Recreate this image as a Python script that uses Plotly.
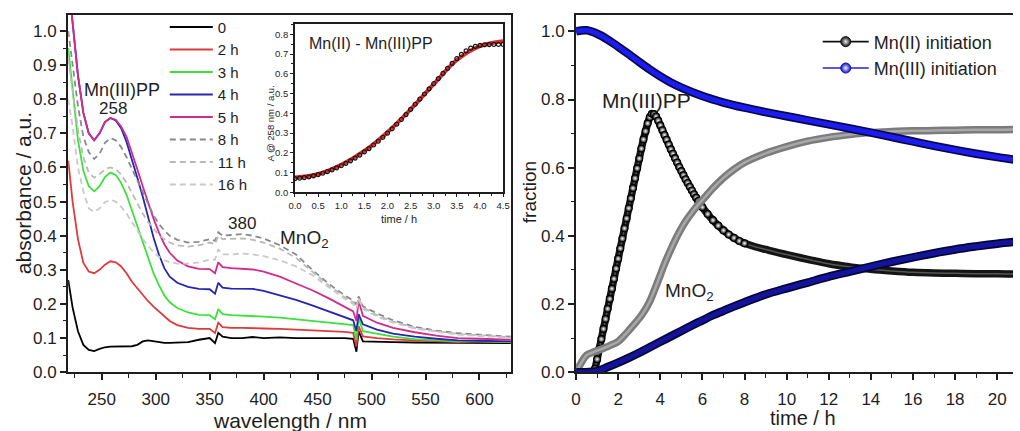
import plotly.graph_objects as go

W, H = 1020, 431


def fx(p):
    return p / W


def fy(p):
    return 1 - p / H


FONT = "Liberation Sans, Arial, Helvetica, sans-serif"
INK = "#1e1e1e"

# ---------------- left panel: UV-vis spectra ----------------
wavelength_nm = [219, 223, 228, 233, 238, 243, 248, 253, 258, 263,
                 268, 273, 278, 283, 288, 293, 298, 303, 308, 313,
                 320, 330, 340, 350, 355, 358, 362, 370, 380, 390,
                 400, 415, 430, 445, 460, 475, 483, 486, 488, 492,
                 505, 520, 540, 560, 580, 600, 615, 629]

abs_0h = [0.27, 0.19, 0.12, 0.08, 0.065, 0.062, 0.068, 0.073, 0.075, 0.075,
          0.075, 0.075, 0.076, 0.08, 0.09, 0.093, 0.09, 0.087, 0.086, 0.086,
          0.086, 0.088, 0.095, 0.1, 0.085, 0.115, 0.104, 0.1, 0.1, 0.103,
          0.1, 0.102, 0.1, 0.101, 0.1, 0.1, 0.098, 0.06, 0.12, 0.09,
          0.09, 0.088, 0.087, 0.087, 0.085, 0.086, 0.085, 0.085]
abs_2h = [0.62, 0.5, 0.39, 0.32, 0.295, 0.29, 0.3, 0.315, 0.325, 0.322,
          0.31, 0.29, 0.265, 0.245, 0.225, 0.208, 0.192, 0.178, 0.163, 0.15,
          0.138, 0.13, 0.127, 0.127, 0.115, 0.145, 0.132, 0.13, 0.13, 0.13,
          0.128, 0.127, 0.125, 0.123, 0.12, 0.118, 0.115, 0.075, 0.135, 0.105,
          0.1, 0.096, 0.093, 0.09, 0.088, 0.09, 0.088, 0.088]
abs_3h = [0.95, 0.82, 0.68, 0.59, 0.545, 0.53, 0.545, 0.572, 0.585, 0.578,
          0.555, 0.52, 0.475, 0.425, 0.38, 0.335, 0.29, 0.255, 0.225, 0.205,
          0.188, 0.175, 0.168, 0.167, 0.155, 0.185, 0.17, 0.167, 0.166, 0.166,
          0.163, 0.16, 0.155, 0.15, 0.146, 0.142, 0.138, 0.095, 0.16, 0.12,
          0.112, 0.104, 0.097, 0.093, 0.09, 0.09, 0.089, 0.088]
abs_4h = [1.15, 1.02, 0.87, 0.76, 0.7, 0.68, 0.7, 0.733, 0.745, 0.738,
          0.715, 0.675, 0.625, 0.57, 0.515, 0.455, 0.395, 0.345, 0.305, 0.28,
          0.262, 0.25, 0.244, 0.243, 0.23, 0.262, 0.248, 0.245, 0.245, 0.244,
          0.238, 0.226, 0.212, 0.196, 0.178, 0.16, 0.152, 0.12, 0.17, 0.14,
          0.125, 0.113, 0.104, 0.098, 0.093, 0.092, 0.09, 0.09]
abs_5h = [1.15, 1.02, 0.87, 0.76, 0.7, 0.68, 0.7, 0.733, 0.745, 0.74,
          0.72, 0.69, 0.645, 0.595, 0.545, 0.495, 0.45, 0.41, 0.375, 0.35,
          0.327, 0.31, 0.303, 0.302, 0.29, 0.322, 0.308, 0.305, 0.302, 0.301,
          0.295, 0.28, 0.26, 0.24, 0.217, 0.19, 0.178, 0.15, 0.21, 0.165,
          0.145, 0.13, 0.117, 0.107, 0.1, 0.098, 0.097, 0.095]
abs_8h = [1.0, 0.9, 0.78, 0.69, 0.645, 0.625, 0.64, 0.672, 0.686, 0.68,
          0.66, 0.63, 0.595, 0.56, 0.525, 0.49, 0.46, 0.435, 0.415, 0.4,
          0.388, 0.38, 0.382, 0.39, 0.385, 0.41, 0.4, 0.402, 0.405, 0.4,
          0.392, 0.372, 0.345, 0.3, 0.26, 0.225, 0.21, 0.198, 0.222, 0.193,
          0.172, 0.152, 0.133, 0.122, 0.114, 0.11, 0.107, 0.104]
abs_11h = [0.92, 0.82, 0.71, 0.63, 0.585, 0.57, 0.58, 0.595, 0.6, 0.595,
           0.58, 0.555, 0.525, 0.495, 0.465, 0.44, 0.42, 0.402, 0.39, 0.38,
           0.372, 0.368, 0.372, 0.38, 0.375, 0.4, 0.39, 0.39, 0.392, 0.388,
           0.38, 0.362, 0.335, 0.295, 0.255, 0.22, 0.205, 0.19, 0.218, 0.19,
           0.167, 0.148, 0.13, 0.12, 0.112, 0.108, 0.105, 0.102]
abs_16h = [0.8, 0.72, 0.6, 0.53, 0.48, 0.47, 0.48, 0.498, 0.505, 0.5,
           0.485, 0.465, 0.44, 0.415, 0.39, 0.37, 0.352, 0.338, 0.328, 0.322,
           0.318, 0.318, 0.322, 0.33, 0.33, 0.36, 0.345, 0.345, 0.348, 0.345,
           0.34, 0.328, 0.31, 0.285, 0.25, 0.215, 0.2, 0.185, 0.215, 0.185,
           0.163, 0.145, 0.128, 0.118, 0.11, 0.106, 0.104, 0.1]

spectrum_labels = ["0", "2 h", "3 h", "4 h", "5 h", "8 h", "11 h", "16 h"]

# ---------------- inset: A @ 258 nm vs time ----------------
inset_time_h = [0.0, 0.1, 0.2, 0.3, 0.4, 0.5, 0.6, 0.7, 0.8, 0.9,
                1.0, 1.1, 1.2, 1.3, 1.4, 1.5, 1.6, 1.7, 1.8, 1.9,
                2.0, 2.1, 2.2, 2.3, 2.4, 2.5, 2.6, 2.7, 2.8, 2.9,
                3.0, 3.1, 3.2, 3.3, 3.4, 3.5, 3.6, 3.7, 3.8, 3.9,
                4.0, 4.1, 4.2, 4.3, 4.4, 4.5]
inset_a258 = [0.070, 0.072, 0.075, 0.079, 0.084, 0.090, 0.097, 0.105, 0.114, 0.124,
              0.135, 0.147, 0.160, 0.174, 0.189, 0.205, 0.222, 0.240, 0.259, 0.279,
              0.300, 0.322, 0.345, 0.369, 0.394, 0.420, 0.446, 0.472, 0.498, 0.524,
              0.550, 0.576, 0.602, 0.628, 0.653, 0.677, 0.698, 0.716, 0.730, 0.739,
              0.744, 0.747, 0.748, 0.749, 0.749, 0.749]
fit_time_h = [0.0, 0.5, 1.0, 1.5, 2.0, 2.5, 3.0, 3.5, 4.0, 4.5]
fit_a258 = [0.075, 0.093, 0.14, 0.21, 0.305, 0.42, 0.548, 0.67, 0.74, 0.765]

# ---------------- right panel: fractions vs time ----------------
t_pp_mn2 = [0.9, 1.0, 1.1, 1.2, 1.3, 1.4, 1.5, 1.6, 1.7, 1.8,
            1.9, 2.0, 2.1, 2.2, 2.3, 2.4, 2.5, 2.6, 2.7, 2.8,
            2.9, 3.0, 3.1, 3.2, 3.3, 3.4, 3.5, 3.6, 3.7, 3.8,
            3.9, 4.0, 4.1, 4.2, 4.3, 4.4, 4.5, 4.6, 4.7, 4.8,
            4.9, 5.0, 5.1, 5.2, 5.3, 5.4, 5.5, 5.6, 5.7, 5.8,
            5.9, 6.0, 6.25, 6.5, 6.75, 7.0, 7.25, 7.5, 7.75, 8.0,
            8.5, 9, 9.5, 10, 11, 12, 13, 14, 15, 16,
            17, 18, 19, 20, 21]
f_pp_mn2 = [0.01, 0.038, 0.068, 0.097, 0.127, 0.156, 0.186, 0.215, 0.245, 0.274,
            0.304, 0.333, 0.363, 0.392, 0.422, 0.451, 0.481, 0.51, 0.54, 0.569,
            0.598, 0.627, 0.656, 0.683, 0.707, 0.73, 0.748, 0.758, 0.757, 0.75,
            0.738, 0.724, 0.71, 0.696, 0.682, 0.668, 0.654, 0.641, 0.628, 0.615,
            0.602, 0.59, 0.578, 0.566, 0.555, 0.544, 0.533, 0.522, 0.512, 0.502,
            0.493, 0.484, 0.464, 0.446, 0.43, 0.416, 0.404, 0.394, 0.385, 0.378,
            0.368, 0.36, 0.352, 0.345, 0.331, 0.318, 0.309, 0.302, 0.297, 0.293,
            0.291, 0.29, 0.289, 0.289, 0.288]

t_mno2_mn2 = [0, 0.25, 0.5, 0.75, 1.0, 1.25, 1.5, 1.75, 2.0, 2.25,
              2.5, 2.75, 3.0, 3.25, 3.5, 3.75, 4.0, 4.25, 4.5, 4.75,
              5.0, 5.25, 5.5, 5.75, 6.0, 6.5, 7.0, 7.5, 8.0, 9,
              10, 11, 12, 13, 14, 15, 16, 17, 18, 19, 20, 21]
f_mno2_mn2 = [0.0, 0.028, 0.05, 0.057, 0.063, 0.069, 0.075, 0.082, 0.09, 0.105,
              0.122, 0.14, 0.158, 0.18, 0.208, 0.245, 0.285, 0.325, 0.36, 0.393,
              0.422, 0.447, 0.468, 0.488, 0.505, 0.54, 0.57, 0.595, 0.615, 0.642,
              0.662, 0.678, 0.689, 0.697, 0.703, 0.706, 0.708, 0.709, 0.71, 0.711,
              0.711, 0.712]

t_pp_mn3 = [0, 0.5, 1, 1.5, 2, 2.5, 3, 3.5, 4, 4.5, 5, 6, 7, 8, 9, 10,
            11, 12, 13, 14, 15, 16, 17, 18, 19, 20, 21]
f_pp_mn3 = [1.0, 1.003, 0.993, 0.976, 0.955, 0.933, 0.91, 0.888, 0.868, 0.85,
            0.835, 0.81, 0.791, 0.776, 0.763, 0.751, 0.739, 0.727, 0.715, 0.703,
            0.69, 0.677, 0.664, 0.652, 0.641, 0.631, 0.622]

t_mno2_mn3 = [0, 0.5, 1, 1.5, 2, 2.5, 3, 3.5, 4, 4.5, 5, 5.5, 6, 6.5, 7, 7.5,
              8, 9, 10, 11, 12, 13, 14, 15, 16, 17, 18, 19, 20, 21]
f_mno2_mn3 = [0.0, 0.0, 0.003, 0.015, 0.028, 0.042, 0.057, 0.073, 0.089, 0.105,
              0.121, 0.137, 0.152, 0.167, 0.18, 0.193, 0.205, 0.228, 0.246, 0.263,
              0.28, 0.295, 0.31, 0.324, 0.337, 0.349, 0.36, 0.369, 0.377, 0.383]

legend_right = ["Mn(II) initiation", "Mn(III) initiation"]

fig = go.Figure()

# spectra
spec_style = [
    (abs_0h, "#000000", "solid"),
    (abs_2h, "#e03a3a", "solid"),
    (abs_3h, "#3ee03e", "solid"),
    (abs_4h, "#2626b4", "solid"),
    (abs_5h, "#d42a8c", "solid"),
    (abs_8h, "#8a8a8a", "6px,4px"),
    (abs_11h, "#b9b9b9", "6px,4px"),
    (abs_16h, "#c9c9c9", "6px,4px"),
]
for name, (ys, col, dash) in zip(spectrum_labels, spec_style):
    fig.add_trace(go.Scatter(
        x=wavelength_nm, y=ys, name=name, mode="lines",
        line=dict(color=col, width=1.8, dash=dash),
        xaxis="x", yaxis="y", legend="legend"))

# inset
fig.add_trace(go.Scatter(
    x=fit_time_h, y=fit_a258, mode="lines", line=dict(color="#d83030", width=4, shape="spline"),
    xaxis="x2", yaxis="y2", showlegend=False))
fig.add_trace(go.Scatter(
    x=inset_time_h, y=inset_a258, mode="markers",
    marker=dict(symbol="circle-open", size=4, color="#111", line=dict(width=1.2)),
    xaxis="x2", yaxis="y2", showlegend=False))

# right panel - Mn(II) initiation, Mn(III)PP (black)
fig.add_trace(go.Scatter(
    x=t_pp_mn2, y=f_pp_mn2, mode="lines", line=dict(color="#141414", width=7.5, shape="spline"),
    xaxis="x3", yaxis="y3", showlegend=False))
fig.add_trace(go.Scatter(
    x=t_pp_mn2, y=f_pp_mn2, mode="lines", line=dict(color="#555555", width=1.5, shape="spline"),
    xaxis="x3", yaxis="y3", showlegend=False))
mk_t = [t for t in t_pp_mn2 if t <= 8.0]
mk_f = [f for t, f in zip(t_pp_mn2, f_pp_mn2) if t <= 8.0]
fig.add_trace(go.Scatter(
    x=mk_t, y=mk_f, mode="markers",
    marker=dict(symbol="circle", size=7, color="#000000",
                gradient=dict(type="radial", color="#ffffff"),
                line=dict(color="#000", width=1.1)),
    xaxis="x3", yaxis="y3", showlegend=False))

# MnO2 (grey)
fig.add_trace(go.Scatter(
    x=t_mno2_mn2, y=f_mno2_mn2, mode="lines", line=dict(color="#7c7c7c", width=7.5, shape="spline"),
    xaxis="x3", yaxis="y3", showlegend=False))
fig.add_trace(go.Scatter(
    x=t_mno2_mn2, y=f_mno2_mn2, mode="lines", line=dict(color="#a8a8a8", width=2.5, shape="spline"),
    xaxis="x3", yaxis="y3", showlegend=False))

# Mn(III) initiation (blue)
for ts, fs, edge, core in [(t_mno2_mn3, f_mno2_mn3, "#05053c", "#14149a"),
                           (t_pp_mn3, f_pp_mn3, "#08084e", "#1c1cf0")]:
    fig.add_trace(go.Scatter(
        x=ts, y=fs, mode="lines", line=dict(color=edge, width=8.5, shape="spline"),
        xaxis="x3", yaxis="y3", showlegend=False))
    fig.add_trace(go.Scatter(
        x=ts, y=fs, mode="lines", line=dict(color=core, width=5, shape="spline"),
        xaxis="x3", yaxis="y3", showlegend=False))

# right legend entries
for name, lc, mc in zip(legend_right, ["#111111", "#2020e8"], ["#111111", "#1010c8"]):
    fig.add_trace(go.Scatter(
        x=[None], y=[None], name=name, mode="lines+markers",
        line=dict(color=lc, width=1.6),
        marker=dict(symbol="circle", size=10, color=mc,
                    gradient=dict(type="radial", color="#f0f0f0"),
                    line=dict(color=mc, width=1)),
        xaxis="x3", yaxis="y3", legend="legend2"))

axis_common = dict(showline=True, linecolor=INK, linewidth=2, ticks="outside",
                   ticklen=6, tickwidth=1.5, tickcolor=INK, showgrid=False, zeroline=False,
                   tickfont=dict(family=FONT, size=17, color=INK))
minor_common = dict(ticks="outside", ticklen=3.5, tickwidth=1.3, tickcolor=INK, showgrid=False)

inset_axis = dict(showline=True, linecolor=INK, linewidth=1.6, ticks="outside", mirror=True,
                  ticklen=3, tickwidth=1, tickcolor=INK, showgrid=False, zeroline=False,
                  tickfont=dict(family=FONT, size=9.5, color=INK))

ann = []


def add_text(text, x, y, size, angle=0):
    ann.append(dict(text=text, x=fx(x), y=fy(y), xref="paper", yref="paper",
                    showarrow=False, textangle=angle, xanchor="center", yanchor="middle",
                    font=dict(family=FONT, size=size, color=INK)))


add_text("absorbance / a.u.", 17, 198, 21, -90)
add_text("wavelength / nm", 287, 430, 21)
add_text("Mn(III)PP", 117, 92, 18)
add_text("258", 107, 111, 17)
add_text("380", 238, 229, 17)
add_text("MnO<sub>2</sub>", 302, 245, 19)
add_text("Mn(II) - Mn(III)PP", 369, 45, 16)
add_text("time / h", 397, 224, 11)
add_text("A @ 258 nm / a.u.", 267, 126, 9.5, -90)
add_text("fraction", 530, 197, 19, -90)
add_text("time / h", 807, 428, 20)
add_text("Mn(III)PP", 648, 103, 21)
add_text("MnO<sub>2</sub>", 692, 299, 19)

fig.update_layout(
    width=W, height=H,
    margin=dict(l=0, r=0, t=0, b=0),
    paper_bgcolor="white", plot_bgcolor="white",
    font=dict(family=FONT, color=INK),
    xaxis=dict(domain=[fx(62), fx(511)], range=[218.9, 629.2], anchor="y",
               tick0=250, dtick=50, mirror=True, ticklabelstandoff=4,
               minor=dict(tick0=225, dtick=25, **minor_common), **axis_common),
    yaxis=dict(domain=[fy(381), fy(15)], range=[0, 1.048], anchor="x",
               tick0=0, dtick=0.1, tickformat=".1f", mirror=True,
               minor=dict(tick0=0, dtick=0.05, **minor_common), **axis_common),
    xaxis2=dict(domain=[fx(292), fx(503)], range=[0, 4.5], anchor="y2",
                tick0=0, dtick=0.5, tickformat=".1f",
                minor=dict(dtick=0.25, ticks="outside", ticklen=2, tickcolor=INK), **inset_axis),
    yaxis2=dict(domain=[fy(197), fy(25)], range=[0, 0.85], anchor="x2",
                tick0=0, dtick=0.1, tickformat=".1f",
                minor=dict(dtick=0.05, ticks="outside", ticklen=2, tickcolor=INK), **inset_axis),
    xaxis3=dict(domain=[fx(577), 1.0], range=[0, 20.75], anchor="y3",
                tick0=0, dtick=2, mirror=True, ticklabelstandoff=4,
                minor=dict(tick0=0, dtick=1, **minor_common), **axis_common),
    yaxis3=dict(domain=[fy(381), fy(15)], range=[0, 1.049], anchor="x3",
                tick0=0, dtick=0.2, tickformat=".1f", mirror=False,
                minor=dict(tick0=0, dtick=0.1, **minor_common), **axis_common),
    legend=dict(x=fx(160), y=fy(11), xanchor="left", yanchor="top",
                bgcolor="rgba(0,0,0,0)", itemwidth=43, traceorder="normal",
                font=dict(family=FONT, size=15, color=INK)),
    legend2=dict(x=fx(822), y=fy(24), xanchor="left", yanchor="top",
                 bgcolor="rgba(0,0,0,0)", itemwidth=46, traceorder="normal",
                 font=dict(family=FONT, size=18, color=INK)),
    annotations=ann,
)

fig.write_html("out.html")
